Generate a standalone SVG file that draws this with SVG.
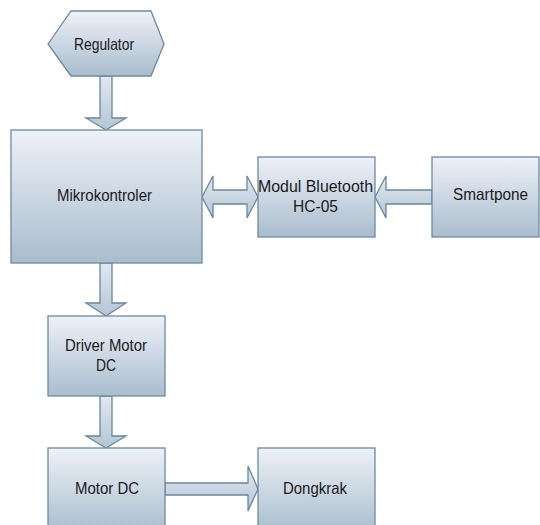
<svg xmlns="http://www.w3.org/2000/svg" width="540" height="525" viewBox="0 0 540 525">
<defs>
<linearGradient id="g" x1="0" y1="0" x2="0" y2="1">
<stop offset="0" stop-color="#eef1f8"/>
<stop offset="1" stop-color="#a9bdcd"/>
</linearGradient>
<linearGradient id="ga" x1="0" y1="0" x2="0" y2="1">
<stop offset="0" stop-color="#e2e9f2"/>
<stop offset="1" stop-color="#b3c5d4"/>
</linearGradient>
</defs>
<style>
.n{fill:url(#g);stroke:#6e8aa0;stroke-width:1.3}
.a{fill:url(#ga);stroke:#6a879c;stroke-width:1.3;stroke-linejoin:miter}
text{font-family:"Liberation Sans",Arial,sans-serif;font-size:16.5px;fill:#1a1a1a;text-anchor:middle}
</style>
<rect width="540" height="525" fill="#ffffff"/>
<g id="connectors">
<polygon class="a" points="100,76 112,76 112,118 126,118 106,130 86,118 100,118"/>
<polygon class="a" points="100,263 112,263 112,303 126,303 106,316 86,303 100,303"/>
<polygon class="a" points="100,396 112,396 112,436 126,436 106,448 86,436 100,436"/>
<polygon class="a" points="165,483 248,483 248,466 258,489 248,511 248,495 165,495"/>
<polygon class="a" points="202,197 213,176 213,190 247,190 247,176 258,197 247,218 247,204 213,204 213,218"/>
<polygon class="a" points="375,197 386,176 386,190 432,190 432,204 386,204 386,218"/>
</g>
<g id="regulator">
<polygon class="n" points="48,44 71,11 151,11 164,44 151,76 71,76"/>
<text x="104" y="50" textLength="60" lengthAdjust="spacingAndGlyphs">Regulator</text>
</g>
<g id="mikrokontroler">
<rect class="n" x="11" y="130" width="191" height="133"/>
<text x="104.5" y="201" textLength="95" lengthAdjust="spacingAndGlyphs">Mikrokontroler</text>
</g>
<g id="bluetooth">
<rect class="n" x="258" y="157" width="117" height="80"/>
<text x="315.5" y="192" textLength="115" lengthAdjust="spacingAndGlyphs">Modul Bluetooth</text>
<text x="315.5" y="212" textLength="45" lengthAdjust="spacingAndGlyphs">HC-05</text>
</g>
<g id="smartpone">
<rect class="n" x="432" y="157" width="107" height="80"/>
<text x="490.5" y="200" textLength="75" lengthAdjust="spacingAndGlyphs">Smartpone</text>
</g>
<g id="driver">
<rect class="n" x="48" y="316" width="117" height="80"/>
<text x="106" y="351" textLength="82" lengthAdjust="spacingAndGlyphs">Driver Motor</text>
<text x="106" y="371" textLength="20" lengthAdjust="spacingAndGlyphs">DC</text>
</g>
<g id="motordc">
<rect class="n" x="48" y="448" width="117" height="85"/>
<text x="107" y="494" textLength="64" lengthAdjust="spacingAndGlyphs">Motor DC</text>
</g>
<g id="dongkrak">
<rect class="n" x="258" y="448" width="117" height="85"/>
<text x="315" y="494" textLength="64" lengthAdjust="spacingAndGlyphs">Dongkrak</text>
</g>
</svg>
